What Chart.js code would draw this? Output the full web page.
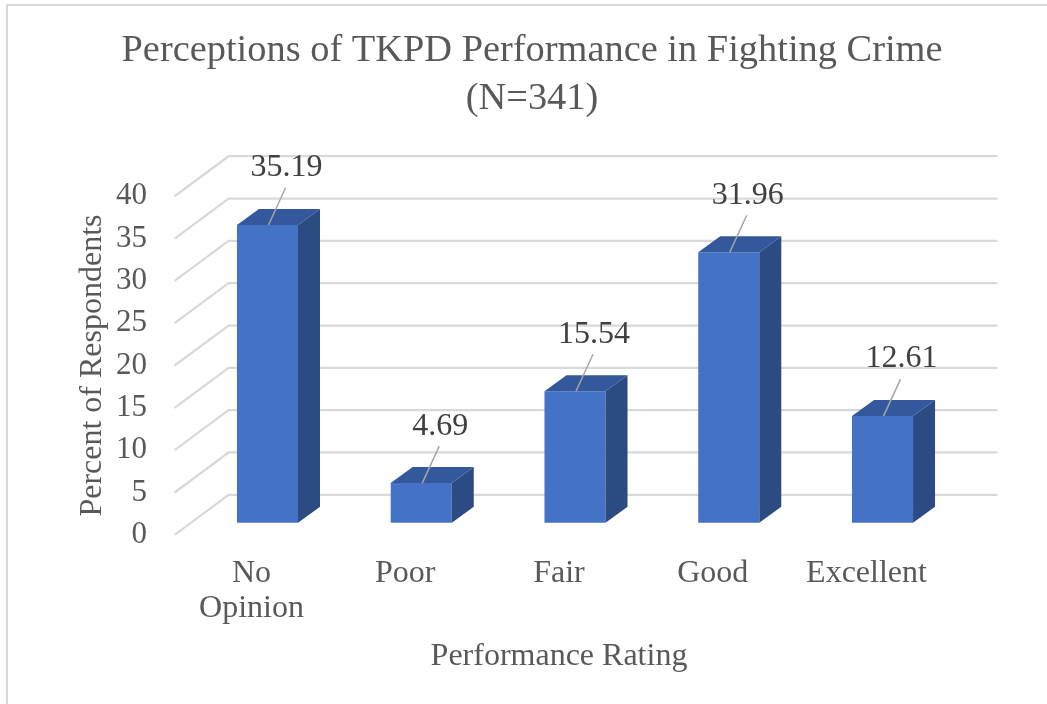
<!DOCTYPE html>
<html>
<head>
<meta charset="utf-8">
<title>Perceptions of TKPD Performance</title>
<script src="https://cdn.jsdelivr.net/npm/chart.js@4.4.1/dist/chart.umd.min.js"></script>
<style>
    html, body { margin: 0; padding: 0; background: #ffffff; }
    #wrap { width: 1047px; height: 704px; position: relative; }
</style>
</head>
<body>
<div id="wrap"><canvas id="chart"></canvas></div>
<script>
// Chart data
const CATEGORIES = [['No', 'Opinion'], 'Poor', 'Fair', 'Good', 'Excellent'];
const PERCENTS = [35.19, 4.69, 15.54, 31.96, 12.61];
const Y_MIN = 0;
const Y_MAX = 40;
const Y_STEP = 5;

const TITLE_LINES = ['Perceptions of TKPD Performance in Fighting Crime', '(N=341)'];
const X_TITLE = 'Performance Rating';
const Y_TITLE = 'Percent of Respondents';

// Look
const FONT = '"Liberation Serif", "Times New Roman", serif';
const TEXT_COLOR = '#595959';
const LABEL_COLOR = '#404040';
const GRID_COLOR = '#d9d9d9';
const COLORS = { front: '#4472c4', top: '#33599c', side: '#2c4b82' };

// 3D depth (pixels): back wall offset and bar position within the depth
const WALL_DX = 54, WALL_DY = 40;
const BAR_DX = 16, BAR_DY = 12;
const SIDE_DX = 22, SIDE_DY = 16;

// Light frame at top and left edge
const framePlugin = {
    id: 'frame',
    beforeDraw(chart) {
        const ctx = chart.ctx;
        ctx.save();
        ctx.strokeStyle = GRID_COLOR;
        ctx.lineWidth = 2;
        ctx.beginPath();
        ctx.moveTo(7, chart.height);
        ctx.lineTo(7, 5);
        ctx.lineTo(chart.width, 5);
        ctx.stroke();
        ctx.restore();
    }
};

// Walls, bar depth faces and data labels
const bar3dPlugin = {
    id: 'bar3d',
    beforeDatasetsDraw(chart) {
        const { ctx, chartArea, scales } = chart;
        const y = scales.y;
        ctx.save();
        ctx.strokeStyle = GRID_COLOR;
        ctx.lineWidth = 2.25;
        y.ticks.forEach(t => {
            const py = y.getPixelForValue(t.value);
            ctx.beginPath();
            ctx.moveTo(chartArea.left, py);
            ctx.lineTo(chartArea.left + WALL_DX, py - WALL_DY);
            ctx.lineTo(chartArea.right + WALL_DX, py - WALL_DY);
            ctx.stroke();
        });
        ctx.restore();
        // bars sit in the middle of the depth
        ctx.save();
        ctx.translate(BAR_DX, -BAR_DY);
    },
    afterDatasetsDraw(chart) {
        const ctx = chart.ctx;
        const meta = chart.getDatasetMeta(0);
        meta.data.forEach(bar => {
            const { x, y, base, width } = bar.getProps(['x', 'y', 'base', 'width'], true);
            const l = x - width / 2, r = x + width / 2;
            // side face
            ctx.fillStyle = COLORS.side;
            ctx.beginPath();
            ctx.moveTo(r, y);
            ctx.lineTo(r + SIDE_DX, y - SIDE_DY);
            ctx.lineTo(r + SIDE_DX, base - SIDE_DY);
            ctx.lineTo(r, base);
            ctx.closePath();
            ctx.fill();
            // top face
            ctx.fillStyle = COLORS.top;
            ctx.beginPath();
            ctx.moveTo(l, y);
            ctx.lineTo(l + SIDE_DX, y - SIDE_DY);
            ctx.lineTo(r + SIDE_DX, y - SIDE_DY);
            ctx.lineTo(r, y);
            ctx.closePath();
            ctx.fill();
        });
        // data labels with leader lines
        meta.data.forEach((bar, i) => {
            const { x, y } = bar.getProps(['x', 'y'], true);
            ctx.strokeStyle = '#a6a6a6';
            ctx.lineWidth = 1.5;
            ctx.beginPath();
            ctx.moveTo(x + 18, y - 37);
            ctx.lineTo(x + 1, y);
            ctx.stroke();
            ctx.fillStyle = LABEL_COLOR;
            ctx.font = '32px ' + FONT;
            ctx.textAlign = 'center';
            ctx.textBaseline = 'middle';
            ctx.fillText(PERCENTS[i].toFixed(2), x + 19, y - 57);
        });
        ctx.restore();
    }
};

const ctx = document.getElementById('chart').getContext('2d');
new Chart(ctx, {
    type: 'bar',
    data: {
        labels: CATEGORIES,
        datasets: [{
            data: PERCENTS,
            backgroundColor: COLORS.front,
            borderWidth: 0,
            categoryPercentage: 1,
            barPercentage: 0.397,
            clip: false
        }]
    },
    options: {
        responsive: true,
        maintainAspectRatio: false,
        animation: false,
        layout: { padding: { top: 0, left: 73, right: 56, bottom: 28 } },
        plugins: {
            legend: { display: false },
            tooltip: { enabled: false },
            title: {
                display: true,
                text: TITLE_LINES,
                color: TEXT_COLOR,
                font: { family: FONT, size: 38.4, weight: 'normal', lineHeight: 1.24 },
                padding: { top: 27.5, bottom: 73.5 }
            }
        },
        scales: {
            x: {
                grid: { display: false, drawTicks: false },
                border: { display: false },
                ticks: {
                    color: TEXT_COLOR,
                    font: { family: FONT, size: 32, lineHeight: 1.1 },
                    padding: 21,
                    maxRotation: 0,
                    autoSkip: false
                },
                title: {
                    display: true,
                    text: X_TITLE,
                    color: TEXT_COLOR,
                    font: { family: FONT, size: 32, lineHeight: 1.2 },
                    padding: { top: 11, bottom: 0 }
                },
                afterFit: s => { s.height = 141.2; }
            },
            y: {
                min: Y_MIN,
                max: Y_MAX,
                grid: { display: false, drawTicks: false },
                border: { display: false },
                ticks: {
                    stepSize: Y_STEP,
                    color: TEXT_COLOR,
                    font: { family: FONT, size: 31 },
                    padding: 27.6
                },
                title: {
                    display: true,
                    text: Y_TITLE,
                    color: TEXT_COLOR,
                    font: { family: FONT, size: 32, lineHeight: 1.2 },
                    padding: { top: 0, bottom: 0 }
                },
                afterFit: s => { s.width = 101.6; }
            },
            // empty right-hand spacer so the chart title sits where the original has it
            spacer: {
                type: 'linear',
                position: 'right',
                display: true,
                grid: { display: false, drawTicks: false },
                border: { display: false },
                ticks: { display: false },
                afterFit: s => { s.width = 47.6; }
            }
        }
    },
    plugins: [framePlugin, bar3dPlugin]
});
</script>
</body>
</html>
